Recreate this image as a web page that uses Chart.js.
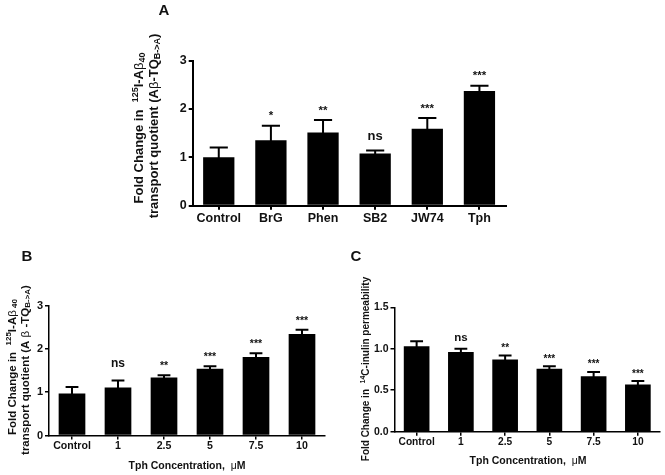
<!DOCTYPE html>
<html><head><meta charset="utf-8">
<script src="https://cdn.jsdelivr.net/npm/chart.js@4/dist/chart.umd.min.js"></script>
<style>
html,body{margin:0;padding:0;background:#fff;}
#wrap{position:relative;width:665px;height:475px;overflow:hidden;background:#fff;}
canvas{position:absolute;display:block;}
</style></head><body>
<div id="wrap">
<canvas id="cA" width="665" height="230" style="left:0;top:0"></canvas>
<canvas id="cB" width="332" height="245" style="left:0;top:230px"></canvas>
<canvas id="cC" width="332" height="245" style="left:333px;top:230px"></canvas>
</div>
<script>
// ---- data ----
const panelA_categories = ['Control', 'BrG', 'Phen', 'SB2', 'JW74', 'Tph'];
const panelA_means = [1.00, 1.35, 1.51, 1.08, 1.59, 2.37];
const panelA_sem = [0.20, 0.30, 0.26, 0.06, 0.22, 0.11];
const panelA_signif = ['', '*', '**', 'ns', '***', '***'];
const panelA_yticks = [0, 1, 2, 3];

const panelB_categories = ['Control', '1', '2.5', '5', '7.5', '10'];
const panelB_means = [0.97, 1.11, 1.34, 1.54, 1.81, 2.34];
const panelB_sem = [0.15, 0.16, 0.05, 0.06, 0.09, 0.10];
const panelB_signif = ['', 'ns', '**', '***', '***', '***'];
const panelB_yticks = [0, 1, 2, 3];

const panelC_categories = ['Control', '1', '2.5', '5', '7.5', '10'];
const panelC_means = [1.03, 0.96, 0.87, 0.76, 0.67, 0.57];
const panelC_sem = [0.06, 0.04, 0.05, 0.03, 0.05, 0.04];
const panelC_signif = ['', 'ns', '**', '***', '***', '***'];
const panelC_yticks = [0, 0.5, 1.0, 1.5];

const FAM = '"Liberation Sans", Arial, Helvetica, sans-serif';

// ---- rich text helper (super/subscripts) ----
function drawRich(ctx, segs, x, y, size, rotate) {
  ctx.save();
  ctx.translate(x, y);
  if (rotate) ctx.rotate(-Math.PI / 2);
  const fontFor = k => {
    if (k === 'sym') return size + 'px ' + FAM;
    const s = (k === 'sup' || k === 'sub') ? Math.round(size * 0.72) : size;
    return 'bold ' + s + 'px ' + FAM;
  };
  let total = 0;
  segs.forEach(([t, k]) => { ctx.font = fontFor(k); total += ctx.measureText(t).width; });
  let cx = -total / 2;
  ctx.textBaseline = 'alphabetic';
  ctx.textAlign = 'left';
  ctx.fillStyle = '#111';
  segs.forEach(([t, k]) => {
    ctx.font = fontFor(k);
    let dy = 0.36 * size;
    if (k === 'sup') dy -= 0.38 * size;
    if (k === 'sub') dy += 0.16 * size;
    ctx.fillText(t, cx, dy);
    cx += ctx.measureText(t).width;
  });
  ctx.restore();
}

const errorBarPlugin = {
  id: 'errbars',
  afterDatasetsDraw(chart, args, o) {
    const ctx = chart.ctx;
    const meta = chart.getDatasetMeta(0);
    const ys = chart.scales.y;
    ctx.save();
    ctx.strokeStyle = '#000';
    ctx.lineWidth = o.lineWidth;
    meta.data.forEach((bar, i) => {
      const m = o.means[i], e = o.errs[i];
      const top = ys.getPixelForValue(m + e);
      const base = ys.getPixelForValue(m);
      const half = bar.width * o.capFrac / 2;
      ctx.beginPath();
      ctx.moveTo(bar.x, base + 2); ctx.lineTo(bar.x, top);
      ctx.moveTo(bar.x - half, top); ctx.lineTo(bar.x + half, top);
      ctx.stroke();
      const s = o.signif[i];
      if (s) {
        const ns = s === 'ns';
        ctx.fillStyle = '#111';
        ctx.font = 'bold ' + (ns ? o.nsSize : o.starSize) + 'px ' + FAM;
        ctx.textAlign = 'center';
        ctx.textBaseline = 'alphabetic';
        ctx.fillText(s, bar.x, top - (ns ? o.nsGap : o.starGap));
      }
    });
    ctx.restore();
  }
};

const textPlugin = {
  id: 'richtext',
  afterDraw(chart, args, o) {
    const ctx = chart.ctx;
    (o.items || []).forEach(it => drawRich(ctx, it.segs, it.x, it.y, it.size, it.rotate));
    if (o.letter) {
      ctx.save();
      ctx.fillStyle = '#111';
      ctx.font = 'bold 15px ' + FAM;
      ctx.textAlign = 'center';
      ctx.textBaseline = 'middle';
      ctx.fillText(o.letter.t, o.letter.x, o.letter.y);
      ctx.restore();
    }
  }
};

function makePanel(id, c) {
  return new Chart(document.getElementById(id), {
    type: 'bar',
    data: {
      labels: c.labels,
      datasets: [{ data: c.means, backgroundColor: '#000', borderWidth: 0,
        barPercentage: c.barPct, categoryPercentage: 1 }]
    },
    options: {
      responsive: false, animation: false, devicePixelRatio: 1,
      layout: { padding: c.padding },
      plugins: {
        legend: { display: false }, tooltip: { enabled: false },
        errbars: { means: c.means, errs: c.errs, signif: c.signif, lineWidth: c.ebw,
          capFrac: c.capFrac, starSize: c.starSize, nsSize: c.nsSize, starGap: c.starGap, nsGap: c.nsGap },
        richtext: { items: c.texts, letter: c.letter }
      },
      scales: {
        x: {
          offset: true,
          grid: { display: true, offset: false, drawOnChartArea: false, drawTicks: true,
            tickLength: 4, color: '#000', lineWidth: c.lw },
          border: { display: true, color: '#000', width: c.lw },
          ticks: { color: '#111', font: { family: FAM, size: c.xfs, weight: 'bold' },
            padding: c.xpad, maxRotation: 0, autoSkip: false },
          afterFit: s => { s.height = 20; }
        },
        y: {
          min: 0, max: c.ymax,
          grid: { display: true, drawOnChartArea: false, drawTicks: true,
            tickLength: 4, color: '#000', lineWidth: c.lw },
          border: { display: true, color: '#000', width: c.lw },
          ticks: { color: '#111', font: { family: FAM, size: c.yfs, weight: 'bold' },
            padding: 2, callback: c.fmt },
          afterBuildTicks: s => { s.ticks = c.yticks.map(v => ({ value: v })); },
          afterFit: s => { s.width = 40; }
        }
      }
    },
    plugins: [errorBarPlugin, textPlugin]
  });
}

makePanel('cA', {
  labels: panelA_categories, means: panelA_means, errs: panelA_sem, signif: panelA_signif,
  yticks: panelA_yticks, ymax: 3, fmt: v => String(v),
  padding: { left: 152.7, right: 159.5, top: 60.5, bottom: 4.3 },
  barPct: 0.6, lw: 2, ebw: 2, capFrac: 0.58,
  starSize: 11.5, nsSize: 13, starGap: 6.5, nsGap: 10.5,
  xfs: 12.5, yfs: 12.5, xpad: 1,
  letter: { t: 'A', x: 164, y: 11 },
  texts: [
    { segs: [['Fold Change in  ', 'n'], ['125', 'sup'], ['I-A', 'n'], ['β', 'sym'], ['40', 'sub']], x: 138.5, y: 128, size: 13, rotate: true },
    { segs: [['transport quotient (A', 'n'], ['β', 'sym'], ['-TQ', 'n'], ['B->A', 'sub'], [')', 'n']], x: 153, y: 126, size: 13, rotate: true }
  ]
});

makePanel('cB', {
  labels: panelB_categories, means: panelB_means, errs: panelB_sem, signif: panelB_signif,
  yticks: panelB_yticks, ymax: 3, fmt: v => String(v),
  padding: { left: 9, right: 7, top: 75.5, bottom: 19.5 },
  barPct: 0.58, lw: 1.5, ebw: 2, capFrac: 0.48,
  starSize: 10.5, nsSize: 12, starGap: 6, nsGap: 13,
  xfs: 10.6, yfs: 11, xpad: 0,
  letter: { t: 'B', x: 27, y: 27 },
  texts: [
    { segs: [['Fold Change in  ', 'n'], ['125', 'sup'], ['I-A', 'n'], ['β', 'sym'], [' 40', 'sub']], x: 11.5, y: 137, size: 11.5, rotate: true },
    { segs: [['transport quotient (A ', 'n'], ['β', 'sym'], [' -TQ', 'n'], ['B->A', 'sub'], [')', 'n']], x: 24.5, y: 140, size: 11.5, rotate: true },
    { segs: [['Tph Concentration,  ', 'n'], ['μ', 'sym'], ['M', 'n']], x: 187, y: 235, size: 10.5, rotate: false }
  ]
});

makePanel('cC', {
  labels: panelC_categories, means: panelC_means, errs: panelC_sem, signif: panelC_signif,
  yticks: panelC_yticks, ymax: 1.5, fmt: v => Number(v).toFixed(1),
  padding: { left: 21.5, right: 5, top: 77.3, bottom: 23.3 },
  barPct: 0.58, lw: 1.5, ebw: 2, capFrac: 0.5,
  starSize: 10, nsSize: 11.5, starGap: 4.5, nsGap: 8,
  xfs: 10.2, yfs: 10.5, xpad: 0,
  letter: { t: 'C', x: 23, y: 27 },
  texts: [
    { segs: [['Fold Change in  ', 'n'], ['14', 'sup'], ['C-inulin permeability', 'n']], x: 32, y: 139, size: 10, rotate: true },
    { segs: [['Tph Concentration,  ', 'n'], ['μ', 'sym'], ['M', 'n']], x: 195, y: 230, size: 10.5, rotate: false }
  ]
});
</script>
</body></html>
